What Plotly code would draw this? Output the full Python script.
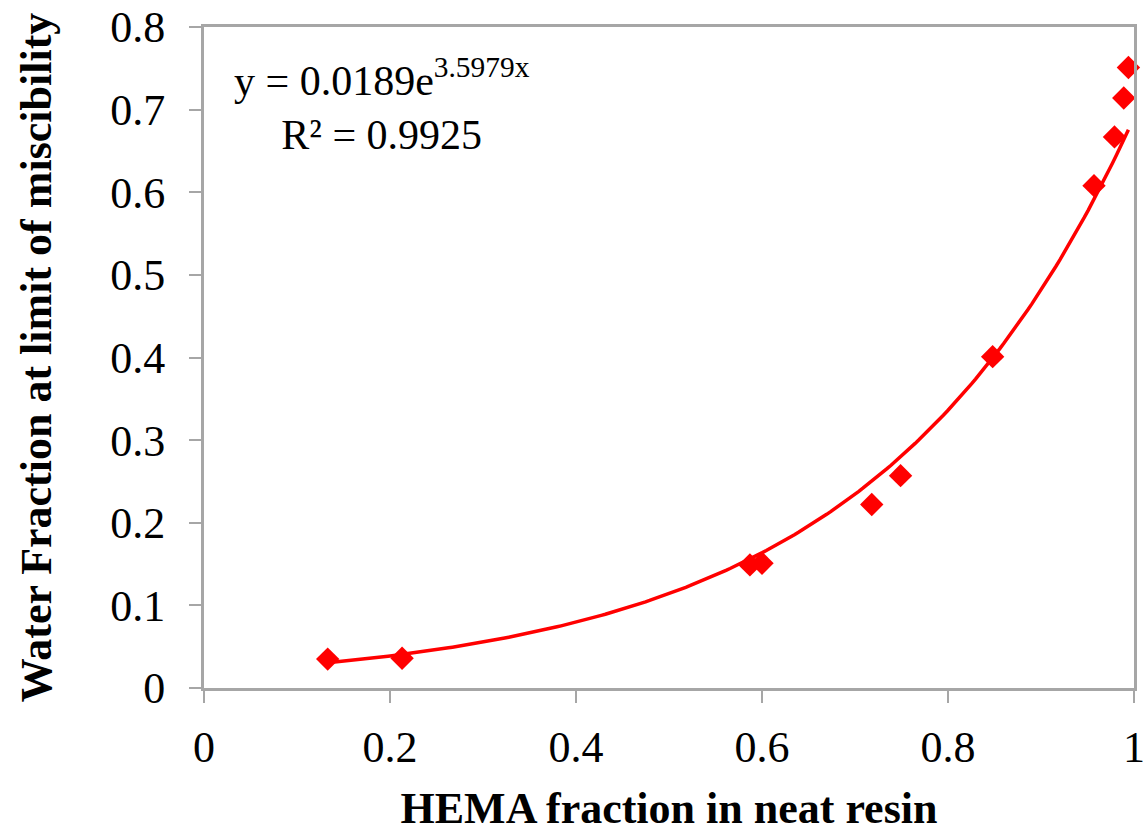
import numpy as np
import plotly.graph_objects as go

# Data
hema_fraction = [0.133, 0.213, 0.587, 0.600, 0.718, 0.749, 0.848, 0.957, 0.979, 0.989, 0.994]
water_fraction = [0.035, 0.036, 0.149, 0.151, 0.222, 0.257, 0.401, 0.608, 0.667, 0.714, 0.751]

# Exponential trendline coefficients (as printed on the chart)
fit_a = 0.0189
fit_b = 3.5979

x_tick_vals = [0, 0.2, 0.4, 0.6, 0.8, 1]
x_tick_text = ["0", "0.2", "0.4", "0.6", "0.8", "1"]
y_tick_vals = [0, 0.1, 0.2, 0.3, 0.4, 0.5, 0.6, 0.7, 0.8]
y_tick_text = ["0", "0.1", "0.2", "0.3", "0.4", "0.5", "0.6", "0.7", "0.8"]

red = "#FF0000"
gray = "#A6A6A6"
font_family = "Liberation Serif, Times New Roman, serif"

xfit = np.linspace(min(hema_fraction), max(hema_fraction), 200)
yfit = fit_a * np.exp(fit_b * xfit)

fig = go.Figure()
fig.add_trace(go.Scatter(x=xfit, y=yfit, mode="lines",
                         line=dict(color=red, width=3.5), hoverinfo="skip",
                         showlegend=False))
fig.add_trace(go.Scatter(x=hema_fraction, y=water_fraction, mode="markers",
                         marker=dict(symbol="diamond", size=18, color=red,
                                     line=dict(width=0)),
                         showlegend=False, cliponaxis=False))

fig.add_annotation(x=0, y=0.8, xref="x", yref="y", xanchor="left", yanchor="top",
                   xshift=28, yshift=-22, align="center", showarrow=False,
                   text="y = 0.0189e<sup>3.5979x</sup><br>R² = 0.9925",
                   font=dict(family=font_family, size=42, color="black"))

fig.update_xaxes(range=[0, 1], tickvals=x_tick_vals, ticktext=x_tick_text,
                 showgrid=False, zeroline=False, showline=True, mirror=True,
                 linecolor=gray, linewidth=3, ticks="outside", ticklen=12,
                 tickcolor=gray, tickwidth=2, automargin=False,
                 ticklabelstandoff=6,
                 tickfont=dict(family=font_family, size=44, color="black"),
                 title=dict(text="<b>HEMA fraction in neat resin</b>",
                            font=dict(family=font_family, size=44, color="black"),
                            standoff=25))
fig.update_yaxes(range=[0, 0.8], tickvals=y_tick_vals, ticktext=y_tick_text,
                 showgrid=False, zeroline=False, showline=True, mirror=True,
                 linecolor=gray, linewidth=3, ticks="outside", ticklen=12,
                 tickcolor=gray, tickwidth=2, automargin=False,
                 ticklabelstandoff=15,
                 tickfont=dict(family=font_family, size=44, color="black"),
                 title=dict(text="<b>Water Fraction at limit of miscibility</b>",
                            font=dict(family=font_family, size=44, color="black"),
                            standoff=45))

fig.update_layout(width=1147, height=833, paper_bgcolor="white", plot_bgcolor="white",
                  margin=dict(l=204, r=13, t=27, b=145))

fig.write_html("out.html")
